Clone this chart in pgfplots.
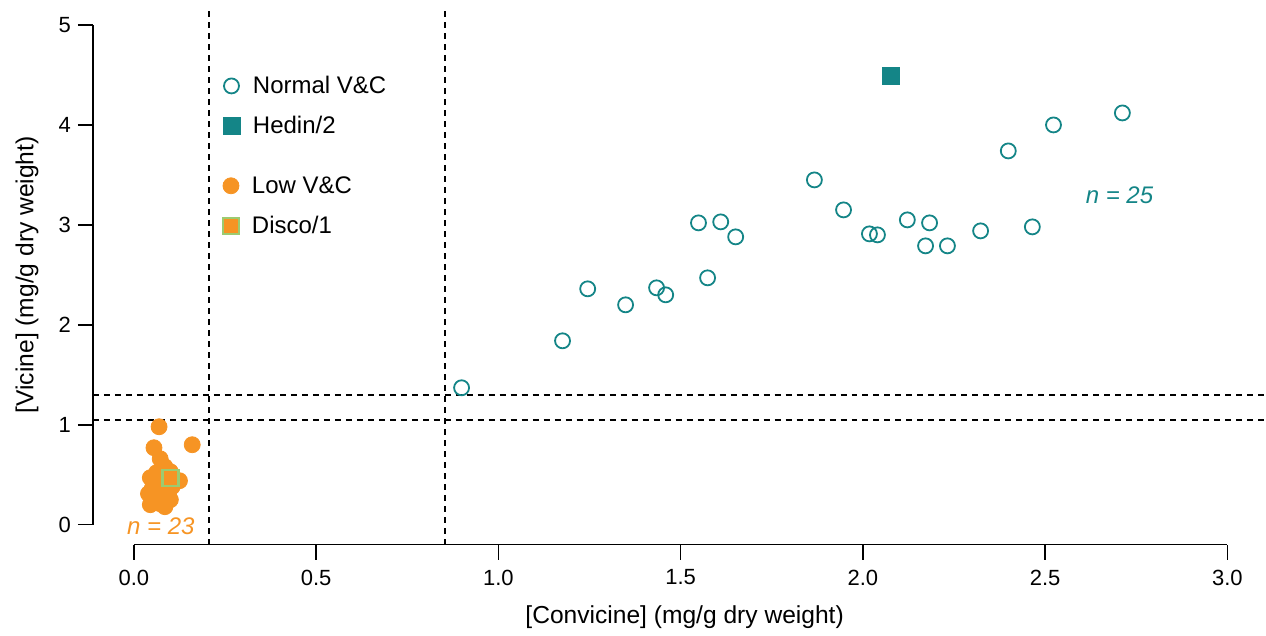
\documentclass[border=0pt]{standalone}
\usepackage{pgfplots}
\pgfplotsset{compat=1.18}
\usepackage{fontspec}
\setmainfont{Liberation Sans}
\definecolor{vteal}{RGB}{20,133,135}
\definecolor{vorange}{RGB}{246,148,36}
\definecolor{vgreen}{RGB}{156,203,112}
\pgfplotsset{
  frame/.style={
    scale only axis, width=586.5pt, height=270pt,
    xmin=-0.1124, xmax=3.104, ymin=-0.2, ymax=5.2,
    clip=false,
    legend cell align=left,
    legend image post style={yshift=1pt},
    legend style={anchor=north west, draw=none, fill=none, inner sep=0pt,
      font=\fontsize{12}{14}\selectfont, row sep=6pt, column sep=5.5pt,
      nodes={inner sep=1pt, text height=9pt, text depth=3pt}},
  }
}
\begin{document}
\begin{tikzpicture}
\begin{axis}[
    frame,
    axis x line*=bottom, axis y line*=left,
    axis line style={draw=none},
    tick align=outside, major tick length=7.5pt,
    tick style={black, line width=0.8pt},
    xtick={0,0.5,1,1.5,2,2.5,3}, ytick={0,1,2,3,4,5},
    minor tick num=0,
    /pgf/number format/assume math mode=true,
    tick label style={font=\fontsize{11}{13}\selectfont},
    xticklabel style={/pgf/number format/.cd, fixed, fixed zerofill, precision=1, /tikz/yshift=-1.5pt},
    yticklabel style={/pgf/number format/.cd, fixed, precision=0},
    xlabel={[Convicine] (mg/g dry weight)},
    ylabel={[Vicine] (mg/g dry weight)},
    label style={font=\fontsize{12.3}{14}\selectfont},
    xlabel style={at={(axis description cs:0.5047,0)}, anchor=center, yshift=-36.5pt},
    ylabel style={at={(axis description cs:-0.0563,0.5)}, anchor=center},
    legend style={at={(0.1106,0.873)}},
  ]
  % reference lines
  \draw[line width=0.75pt, dash pattern=on 3pt off 2.5pt] (axis cs:0.206,-0.2) -- (axis cs:0.206,5.15);
  \draw[line width=0.75pt, dash pattern=on 3pt off 2.5pt] (axis cs:0.853,-0.2) -- (axis cs:0.853,5.15);
  \draw[line width=0.75pt, dash pattern=on 3pt off 2.5pt] (axis cs:-0.1124,1.30) -- (axis cs:3.104,1.30);
  \draw[line width=0.75pt, dash pattern=on 3pt off 2.5pt] (axis cs:-0.1124,1.05) -- (axis cs:3.104,1.05);
  % R-style axis lines
  \draw[line width=0.8pt] (axis cs:0,-0.2) -- (axis cs:3,-0.2);
  \draw[line width=0.8pt] (axis cs:-0.1124,0) -- (axis cs:-0.1124,5);

  \addplot[only marks, mark=o, mark size=3.75pt, color=vteal, mark options={line width=0.9pt}] coordinates {
    (0.899,1.37) (1.176,1.84) (1.245,2.36) (1.349,2.20) (1.434,2.37)
    (1.459,2.30) (1.574,2.47) (1.549,3.02) (1.610,3.03) (1.651,2.88)
    (1.867,3.45) (1.947,3.15) (2.018,2.91) (2.040,2.90) (2.122,3.05)
    (2.183,3.02) (2.172,2.79) (2.232,2.79) (2.323,2.94) (2.399,3.74)
    (2.465,2.98) (2.523,4.00) (2.712,4.12)
  };
  \addlegendentry{Normal V\&C}
  \addplot[only marks, mark=square*, mark size=4.25pt, color=vteal] coordinates {
    (2.078,4.49)
  };
  \addlegendentry{Hedin/2}

  \node[vteal, font=\fontsize{12}{14}\selectfont\itshape] at (axis cs:2.704,3.30) {n = 25};

  % page extent
  \path (rel axis cs:0,0) ++(-46.5pt,-45.5pt);
  \path (rel axis cs:1,1) ++(0pt,2.5pt);
\end{axis}
% low V&C group, same frame, own legend
\begin{axis}[
    frame, hide axis,
    legend style={at={(0.1106,0.688)}},
  ]
  \addplot[only marks, mark=*, mark size=4pt, color=vorange] coordinates {
    (0.069,0.98) (0.160,0.80) (0.055,0.77) (0.072,0.66) (0.085,0.58)
    (0.100,0.53) (0.045,0.47) (0.070,0.47) (0.125,0.44) (0.110,0.45)
    (0.040,0.31) (0.065,0.38) (0.090,0.36) (0.095,0.30) (0.045,0.20)
    (0.072,0.21) (0.100,0.25) (0.058,0.27) (0.080,0.42) (0.050,0.36)
    (0.085,0.18) (0.062,0.52) (0.105,0.38)
  };
  \addlegendentry{Low V\&C}
  \addplot[only marks, mark=square*, mark size=4pt, mark options={fill=vorange, draw=vgreen, line width=1.2pt}] coordinates {
    (0.100,0.47)
  };
  \addlegendentry{Disco/1}

  \node[vorange, font=\fontsize{12}{14}\selectfont\itshape] at (axis cs:0.074,-0.02) {n = 23};
\end{axis}
\end{tikzpicture}
\end{document}
